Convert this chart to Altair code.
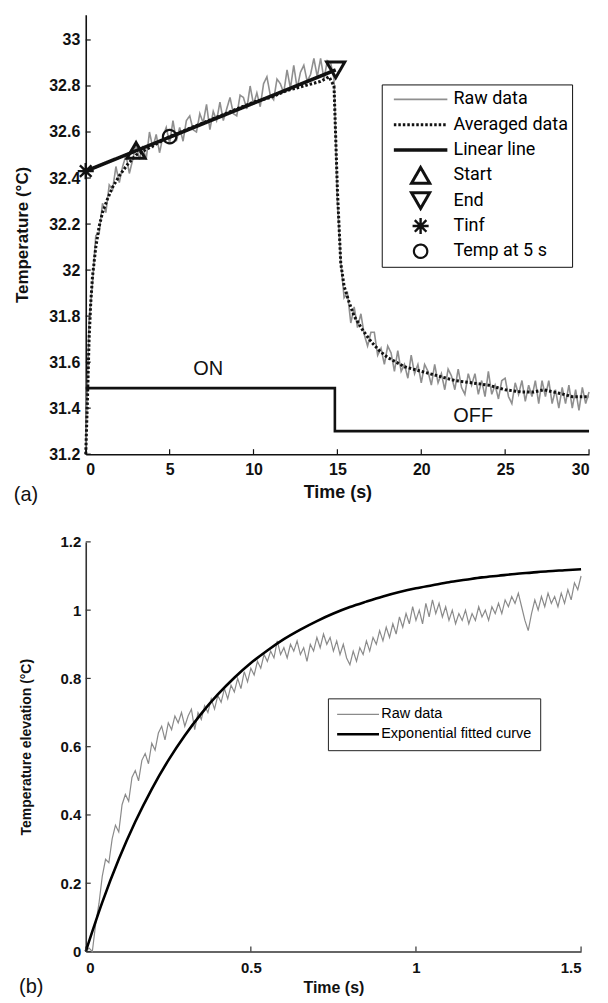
import altair as alt
import pandas as pd

# ---------------- Panel (a) data ----------------
raw_a_t = [round(i * 0.2, 1) for i in range(151)]
raw_a_v = [31.22, 31.78, 31.94, 32.15, 32.16, 32.29, 32.25, 32.37, 32.35, 32.45,
           32.38, 32.45, 32.50, 32.42, 32.48, 32.55, 32.48, 32.54, 32.48, 32.60,
           32.53, 32.59, 32.51, 32.58, 32.62, 32.55, 32.65, 32.56, 32.62, 32.56,
           32.65, 32.67, 32.61, 32.60, 32.68, 32.64, 32.72, 32.61, 32.69, 32.65,
           32.73, 32.65, 32.70, 32.75, 32.68, 32.67, 32.76, 32.75, 32.70, 32.80,
           32.72, 32.77, 32.71, 32.81, 32.84, 32.76, 32.74, 32.83, 32.81, 32.77,
           32.87, 32.79, 32.89, 32.79, 32.86, 32.89, 32.82, 32.85, 32.92, 32.84,
           32.92, 32.83, 32.91, 32.90, 32.83, 32.30, 32.04, 31.88, 31.90, 31.77,
           31.84, 31.75, 31.81, 31.72, 31.67, 31.73, 31.73, 31.63, 31.66, 31.59,
           31.67, 31.64, 31.56, 31.65, 31.56, 31.59, 31.53, 31.63, 31.55, 31.59,
           31.51, 31.59, 31.56, 31.50, 31.59, 31.51, 31.55, 31.48, 31.57, 31.54,
           31.48, 31.57, 31.49, 31.46, 31.55, 31.50, 31.55, 31.46, 31.52, 31.45,
           31.56, 31.46, 31.50, 31.44, 31.52, 31.53, 31.45, 31.42, 31.51, 31.46,
           31.52, 31.43, 31.50, 31.45, 31.52, 31.42, 31.52, 31.45, 31.52, 31.42,
           31.48, 31.40, 31.49, 31.42, 31.50, 31.40, 31.48, 31.39, 31.49, 31.42,
           31.47]
avg_a_t = [0, 0.1, 0.2, 0.3, 0.4, 0.6, 0.8, 1.0, 1.3, 1.6, 2.0, 2.5, 3.0, 4, 5, 6, 7, 8,
           9, 10, 11, 12, 13, 14, 14.5, 14.8, 15.0, 15.2, 15.4, 15.7, 16, 16.5, 17,
           17.5, 18, 18.5, 19, 19.5, 20, 21, 22, 23, 24, 25, 26, 26.7, 27.3, 27.9,
           28.5, 29, 30]
avg_a_v = [31.20, 31.43, 31.70, 31.86, 31.97, 32.10, 32.19, 32.25, 32.31, 32.36,
           32.41, 32.46, 32.50, 32.54, 32.58, 32.61, 32.64, 32.67, 32.70, 32.73,
           32.75, 32.78, 32.80, 32.82, 32.84, 32.80, 32.35, 32.03, 31.93, 31.86,
           31.80, 31.74, 31.69, 31.65, 31.62, 31.60, 31.58, 31.57, 31.56, 31.54,
           31.52, 31.51, 31.50, 31.48, 31.47, 31.47, 31.48, 31.47, 31.46, 31.45,
           31.45]
lin_a_t = [0.0, 14.9]
lin_a_v = [32.43, 32.87]
mk_items = ["Start", "End", "Tinf", "Temp at 5 s"]
mk_t = [3.0, 14.9, 0.0, 5.0]
mk_v = [32.52, 32.87, 32.43, 32.58]
step_t = [0.0, 14.85, 14.85, 30.0]
step_v = [31.487, 31.487, 31.30, 31.30]
state_text = ["ON", "OFF"]
state_t = [7.3, 23.1]
state_v = [31.57, 31.365]
a_yticks = [31.2, 31.4, 31.6, 31.8, 32.0, 32.2, 32.4, 32.6, 32.8, 33.0]
a_xticks = [0, 5, 10, 15, 20, 25, 30]

# ---------------- Panel (b) data ----------------
raw_b_t = [round(i * 0.01, 2) for i in range(151)]
raw_b_v = [0.00, 0.01, 0.00, 0.08, 0.14, 0.22, 0.27, 0.26, 0.33, 0.37,
           0.35, 0.43, 0.46, 0.44, 0.51, 0.53, 0.50, 0.56, 0.58, 0.55,
           0.61, 0.59, 0.64, 0.66, 0.62, 0.67, 0.65, 0.69, 0.67, 0.70,
           0.66, 0.69, 0.71, 0.65, 0.70, 0.68, 0.72, 0.70, 0.74, 0.71,
           0.75, 0.73, 0.77, 0.74, 0.78, 0.76, 0.80, 0.77, 0.82, 0.79,
           0.83, 0.81, 0.85, 0.83, 0.87, 0.85, 0.88, 0.86, 0.91, 0.87,
           0.89, 0.86, 0.90, 0.88, 0.91, 0.87, 0.89, 0.85, 0.90, 0.88,
           0.92, 0.89, 0.93, 0.90, 0.92, 0.88, 0.91, 0.87, 0.90, 0.86,
           0.84, 0.88, 0.85, 0.89, 0.87, 0.91, 0.88, 0.92, 0.90, 0.94,
           0.91, 0.95, 0.92, 0.96, 0.93, 0.98, 0.95, 0.99, 0.96, 1.01,
           0.97, 1.00, 0.96, 1.02, 0.98, 1.03, 0.99, 1.02, 0.98, 1.01,
           0.97, 1.00, 0.96, 0.99, 0.97, 1.00, 0.96, 0.99, 0.97, 1.01,
           0.98, 1.00, 0.97, 1.01, 0.99, 1.02, 0.99, 1.03, 1.01, 1.04,
           1.02, 1.05, 1.01, 0.97, 0.94, 0.99, 1.03, 1.00, 1.04, 1.01,
           1.05, 1.02, 1.04, 1.01, 1.05, 1.02, 1.06, 1.03, 1.08, 1.06,
           1.10]
fit_b_t = [round(i * 0.05, 2) for i in range(31)]
fit_b_v = [0.0, 0.144, 0.270, 0.380, 0.476, 0.560, 0.633, 0.697, 0.753, 0.802,
           0.845, 0.882, 0.915, 0.943, 0.968, 0.990, 1.009, 1.025, 1.040, 1.053,
           1.064, 1.073, 1.082, 1.089, 1.096, 1.101, 1.106, 1.110, 1.114, 1.117,
           1.120]
b_yticks = [0, 0.2, 0.4, 0.6, 0.8, 1.0, 1.2]
b_xticks = [0, 0.5, 1.0, 1.5]

# ---------------- tables ----------------
raw_a = pd.DataFrame({"t": raw_a_t, "v": raw_a_v, "item": "Raw data"})
avg_a = pd.DataFrame({"t": avg_a_t, "v": avg_a_v, "item": "Averaged data"})
lin_a = pd.DataFrame({"t": lin_a_t, "v": lin_a_v, "item": "Linear line"})
mk_a = pd.DataFrame({"t": mk_t, "v": mk_v, "item": mk_items})
step_a = pd.DataFrame({"t": step_t, "v": step_v, "i": list(range(len(step_t)))})
state_a = pd.DataFrame({"t": state_t, "v": state_v, "label": state_text})
ytick_a = pd.DataFrame({"v": a_yticks})
xtick_a = pd.DataFrame({"t": a_xticks})

raw_b = pd.DataFrame({"t": raw_b_t, "v": raw_b_v, "series": "Raw data"})
fit_b = pd.DataFrame({"t": fit_b_t, "v": fit_b_v, "series": "Exponential fitted curve"})
ytick_b = pd.DataFrame({"v": b_yticks})
xtick_b = pd.DataFrame({"t": b_xticks})

FONT = "Liberation Sans"
W_A, H_A = 505, 441
W_B, H_B = 497, 411

# ---------------- Panel (a) ----------------
xs_a = alt.Scale(domain=[0, 30], nice=False, zero=False)
ys_a = alt.Scale(domain=[31.2, 33.11], nice=False, zero=False)

ax_a_x = alt.Axis(values=a_xticks, format="~g", tickSize=0, labelPadding=7, grid=False,
                  labelFont=FONT, labelFontSize=16, labelFontWeight="bold", labelColor="#111",
                  domainColor="#111", domainWidth=1.6, titleFont=FONT, titleFontSize=18,
                  titleFontWeight="bold", titleColor="#111", titlePadding=6)
ax_a_y = alt.Axis(values=a_yticks, format="~g", tickSize=0, labelPadding=6, grid=False,
                  labelFont=FONT, labelFontSize=16, labelFontWeight="bold", labelColor="#111",
                  domainColor="#111", domainWidth=1.6, titleFont=FONT, titleFontSize=17,
                  titleFontWeight="bold", titleColor="#111", titlePadding=17)
XA = alt.X("t:Q", scale=xs_a, axis=ax_a_x, title="Time (s)")
YA = alt.Y("v:Q", scale=ys_a, axis=ax_a_y, title="Temperature (°C)")

item_domain = ["Raw data", "Averaged data", "Linear line", "Start", "End", "Tinf", "Temp at 5 s"]
line_path = "M-3.1,0L3.1,0"
star_path = "M0,-1L0,1M-1,0L1,0M-0.72,-0.72L0.72,0.72M-0.72,0.72L0.72,-0.72"
color_s = alt.Scale(domain=item_domain, range=["#8f8f8f", "#111111", "#111111", "#111111",
                                               "#111111", "#111111", "#111111"])
dash_s = alt.Scale(domain=item_domain, range=[[1, 0], [2.5, 2], [1, 0], [1, 0], [1, 0], [1, 0], [1, 0]])
sw_s = alt.Scale(type="ordinal", domain=item_domain, range=[1.6, 3.0, 3.6, 3.0, 3.0, 2.4, 2.2])
shape_s = alt.Scale(domain=item_domain, range=[line_path, line_path, line_path, "triangle-up",
                                               "triangle-down", star_path, "circle"])
size_s = alt.Scale(type="ordinal", domain=item_domain, range=[300, 300, 300, 330, 330, 260, 180])

leg_a = alt.Legend(title=None, orient="none", legendX=297, legendY=70, strokeColor="#111",
                   fillColor="white", padding=4, labelFont="Roboto", labelFontSize=18,
                   labelColor="#000", rowPadding=3.4, clipHeight=22, symbolOffset=24,
                   labelOffset=22)

def a_line(df):
    return alt.Chart(df).mark_line().encode(
        x=XA, y=YA,
        color=alt.Color("item:N", scale=color_s, legend=leg_a),
        strokeDash=alt.StrokeDash("item:N", scale=dash_s, legend=leg_a),
        strokeWidth=alt.StrokeWidth("item:N", scale=sw_s, legend=leg_a),
    )

raw_layer = a_line(raw_a)
avg_layer = a_line(avg_a)
lin_layer = a_line(lin_a)

step_layer = alt.Chart(step_a).mark_line(color="#111", strokeWidth=2.6).encode(
    x=XA, y=YA, order="i:Q")
state_layer = alt.Chart(state_a).mark_text(font=FONT, fontSize=20, color="#111").encode(
    x=XA, y=YA, text="label:N")
mk_layer = alt.Chart(mk_a).mark_point(filled=False, opacity=1).encode(
    x=XA, y=YA,
    color=alt.Color("item:N", scale=color_s, legend=leg_a),
    shape=alt.Shape("item:N", scale=shape_s, legend=leg_a),
    size=alt.Size("item:N", scale=size_s, legend=leg_a),
    strokeDash=alt.StrokeDash("item:N", scale=dash_s, legend=leg_a),
    strokeWidth=alt.StrokeWidth("item:N", scale=sw_s, legend=leg_a),
)
ytk_a = alt.Chart(ytick_a).mark_rule(color="#111", strokeWidth=1.2).encode(
    y=YA, x=alt.value(0), x2=alt.value(5))
xtk_a = alt.Chart(xtick_a).mark_rule(color="#111", strokeWidth=1.2).encode(
    x=XA, y=alt.value(H_A), y2=alt.value(H_A - 5))

panel_a = alt.layer(raw_layer, avg_layer, lin_layer, step_layer, state_layer, mk_layer,
                    ytk_a, xtk_a).properties(
    width=W_A, height=H_A,
    title=alt.TitleParams("(a)", orient="bottom", anchor="start", frame="bounds", offset=-16,
                          font=FONT, fontSize=20, fontWeight="normal", color="#111"),
)

# ---------------- Panel (b) ----------------
xs_b = alt.Scale(domain=[0, 1.5], nice=False, zero=False)
ys_b = alt.Scale(domain=[0, 1.2], nice=False, zero=False)
ax_b_x = alt.Axis(values=b_xticks, format="~g", tickSize=0, labelPadding=9, grid=False,
                  labelFont=FONT, labelFontSize=15, labelFontWeight="bold", labelColor="#111",
                  domainColor="#333", domainWidth=1.6, titleFont=FONT, titleFontSize=16,
                  titleFontWeight="bold", titleColor="#111", titlePadding=4)
ax_b_y = alt.Axis(values=b_yticks, format="~g", tickSize=0, labelPadding=5, grid=False,
                  labelFont=FONT, labelFontSize=15, labelFontWeight="bold", labelColor="#111",
                  domainColor="#333", domainWidth=1.6, titleFont=FONT, titleFontSize=14,
                  titleFontWeight="bold", titleColor="#111", titlePadding=27)
XB = alt.X("t:Q", scale=xs_b, axis=ax_b_x, title="Time (s)")
YB = alt.Y("v:Q", scale=ys_b, axis=ax_b_y, title="Temperature elevation (°C)")
ser_domain = ["Raw data", "Exponential fitted curve"]
color_b = alt.Scale(domain=ser_domain, range=["#8a8a8a", "#000000"])
sw_b = alt.Scale(type="ordinal", domain=ser_domain, range=[1.2, 2.6])
leg_b = alt.Legend(title=None, orient="none", legendX=243, legendY=157, strokeColor="#222",
                   fillColor="white", padding=8, symbolType="M-4.2,0L4.2,0", symbolSize=100,
                   symbolOffset=15, labelOffset=16, labelFont=FONT, labelFontSize=14.5,
                   labelColor="#000", rowPadding=4, clipHeight=16)

raw_b_layer = alt.Chart(raw_b).mark_line().encode(
    x=XB, y=YB,
    color=alt.Color("series:N", scale=color_b, legend=leg_b),
    strokeWidth=alt.StrokeWidth("series:N", scale=sw_b, legend=leg_b),
)
fit_b_layer = alt.Chart(fit_b).mark_line(interpolate="monotone").encode(
    x=XB, y=YB,
    color=alt.Color("series:N", scale=color_b, legend=leg_b),
    strokeWidth=alt.StrokeWidth("series:N", scale=sw_b, legend=leg_b),
)
ytk_b = alt.Chart(ytick_b).mark_rule(color="#333", strokeWidth=1.2).encode(
    y=YB, x=alt.value(0), x2=alt.value(5))
xtk_b = alt.Chart(xtick_b).mark_rule(color="#333", strokeWidth=1.2).encode(
    x=XB, y=alt.value(H_B), y2=alt.value(H_B - 5))

panel_b = alt.layer(raw_b_layer, fit_b_layer, ytk_b, xtk_b).properties(
    width=W_B, height=H_B,
    title=alt.TitleParams("(b)", orient="bottom", anchor="start", frame="bounds", offset=-18,
                          font=FONT, fontSize=20, fontWeight="normal", color="#111"),
)

chart = alt.vconcat(panel_a, panel_b, spacing=30, background="white").resolve_scale(
    x="independent", y="independent", color="independent", strokeDash="independent",
    strokeWidth="independent", shape="independent", size="independent",
).resolve_legend(color="independent", strokeWidth="independent").configure_view(stroke=None)

chart.save("out.html", embed_options={"renderer": "svg", "actions": False})
